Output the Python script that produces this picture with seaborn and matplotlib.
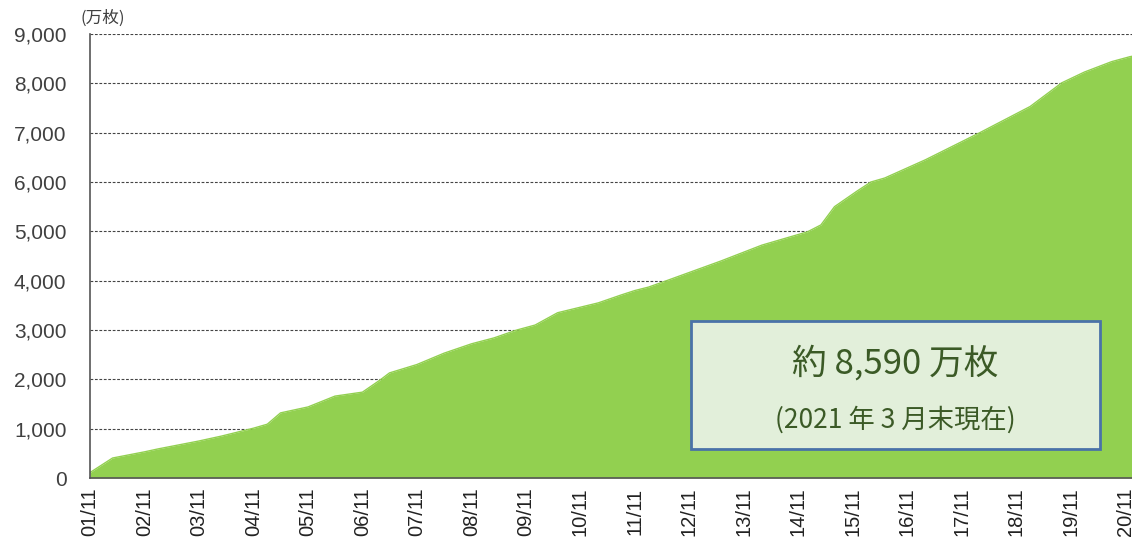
import pandas as pd
import matplotlib
matplotlib.use('Agg')
import matplotlib.pyplot as plt
import matplotlib.dates as mdates
import matplotlib.ticker as mticker
from matplotlib.patches import Rectangle
from matplotlib import font_manager
import seaborn as sns

# cumulative issued cards (万枚)
dates = ['2001-11', '2002-04', '2002-11', '2003-02', '2003-11', '2004-04',
         '2004-11', '2005-02', '2005-05', '2005-11', '2006-05', '2006-11',
         '2007-03', '2007-05', '2007-11', '2008-05', '2008-11', '2009-04',
         '2009-09', '2010-01', '2010-06', '2011-03', '2011-08', '2011-11',
         '2012-02', '2012-06', '2013-06', '2014-03', '2015-01', '2015-04',
         '2015-07', '2015-12', '2016-03', '2016-06', '2017-03', '2018-03',
         '2019-02', '2019-09', '2020-02', '2020-08', '2020-12', '2021-03']
values = [110, 405, 530, 590, 750, 850,
          1010, 1090, 1320, 1440, 1660, 1740,
          1990, 2130, 2300, 2530, 2720, 2840,
          3000, 3100, 3350, 3550, 3710, 3800,
          3870, 4000, 4400, 4720, 4990, 5130,
          5500, 5820, 6000, 6080, 6450, 7000,
          7530, 8010, 8230, 8440, 8540, 8590]

y_ticks = [0, 1000, 2000, 3000, 4000, 5000, 6000, 7000, 8000, 9000]
tick_years = list(range(2001, 2021))
unit_label = '(万枚)'
box_line1 = '約 8,590 万枚'
box_line2 = '(2021 年 3 月末現在)'

df = pd.DataFrame({'date': pd.to_datetime(dates), 'cards': values})

sns.set_theme(style='white')
plt.rcParams['font.family'] = ['Liberation Sans', 'Noto Sans CJK JP', 'DejaVu Sans']

installed = {f.name for f in font_manager.fontManager.ttflist}
xfont = 'Liberation Sans Narrow' if 'Liberation Sans Narrow' in installed else 'Liberation Sans'

fig = plt.figure(figsize=(11.32, 5.39), dpi=100)
ax = fig.add_axes([90 / 1132, 61 / 539, 1042 / 1132, 444 / 539])

green = '#92d050'
ax.fill_between(df['date'], df['cards'], 0, color=green, lw=0, zorder=2)
sns.lineplot(data=df, x='date', y='cards', color=green, lw=1, ax=ax, zorder=3)

ax.set_xlim(pd.Timestamp('2001-11-01'), pd.Timestamp('2020-12-15'))
ax.set_ylim(0, 9000)
ax.set_xlabel('')
ax.set_ylabel('')

ax.set_yticks(y_ticks)
ax.yaxis.set_major_formatter(mticker.FuncFormatter(lambda v, p: f'{int(v):,}'))
ax.set_xticks([pd.Timestamp(f'{y}-11-01') for y in tick_years])
ax.xaxis.set_major_formatter(mdates.DateFormatter('%y/%m'))

ax.tick_params(axis='y', length=0, pad=17, labelsize=15, labelcolor='#404040')
ax.tick_params(axis='x', direction='in', length=4, width=1, color='#333333',
               pad=7, labelsize=14.5, labelcolor='#222222', labelrotation=90)
for lab in ax.get_xticklabels():
    lab.set_family(xfont)

ax.grid(axis='y', linestyle=(0, (2.5, 1.5)), color='#444444', lw=0.8, zorder=1)
ax.set_axisbelow(True)
for side in ['top', 'right']:
    ax.spines[side].set_visible(False)
for side in ['left', 'bottom']:
    ax.spines[side].set_color('#555555')
    ax.spines[side].set_linewidth(1.2)
    ax.spines[side].set_zorder(4)

fig.text(103 / 1132, 1 - 18 / 539, unit_label, ha='center', va='center',
         fontsize=12, color='#404040', family=['Noto Sans CJK JP'])

# annotation box
ax.add_patch(Rectangle((0.577, 0.065), 0.392, 0.289, transform=ax.transAxes,
                       facecolor='#e2efda', edgecolor='#4a72a8', lw=2, zorder=5))
ax.text(0.773, 0.257, box_line1, transform=ax.transAxes, ha='center', va='center',
        fontsize=25, color='#3b5a26', family=['Noto Sans CJK JP'], zorder=6)
ax.text(0.773, 0.13, box_line2, transform=ax.transAxes, ha='center', va='center',
        fontsize=19, color='#3b5a26', family=['Noto Sans CJK JP'], zorder=6)

fig.savefig('out.png', dpi=100)
